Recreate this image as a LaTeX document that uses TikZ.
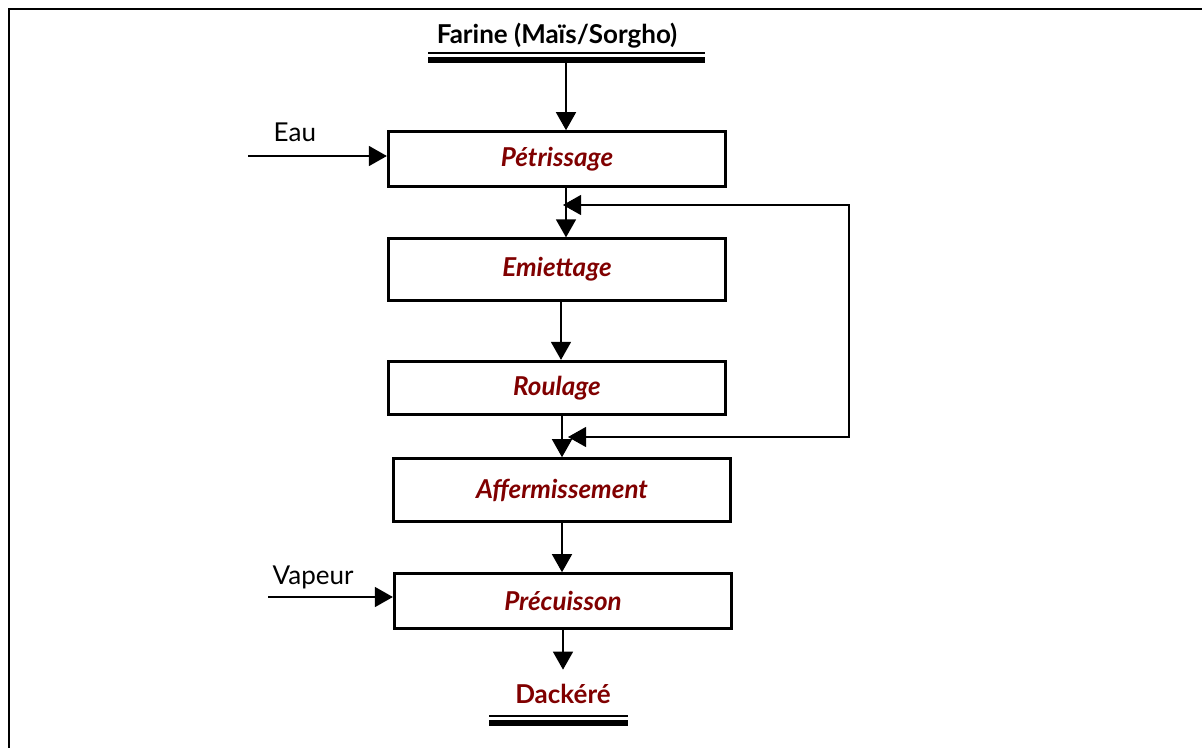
\documentclass[tikz,border=0pt]{standalone}
\usepackage{fontspec}
\setmainfont{Lato}
\usetikzlibrary{arrows.meta,calc}
\definecolor{brique}{RGB}{128,0,0}

\begin{document}
\begin{tikzpicture}[x=0.75pt,y=-0.75pt, every node/.style={font=\fontsize{19.5}{23}\selectfont},
		etape/.style={draw, line width=2.2pt, inner sep=0pt, minimum width=253pt, text=brique, font=\bfseries\itshape\fontsize{19.5}{23}\selectfont},
		fl/.style={-{Triangle[length=13.5pt,width=15pt]}, line width=1.1pt},
		boucle/.style={{Triangle[length=13.5pt,width=15pt]}-{Triangle[length=13.5pt,width=15pt]}, line width=0.8pt}]
		\useasboundingbox (0,0) rectangle (1202,747);
		\clip (0,0) rectangle (1202,747);
		\draw[line width=1pt] (9,9) rectangle (1230,770);
		\node[anchor=base, font=\bfseries\fontsize{19.5}{23}\selectfont] (farine) at (557,43) {Farine (Maïs/Sorgho)};
		\draw[line width=1.1pt] (428,53) -- (705,53);
		\draw[line width=4.5pt] (428,60) -- (705,60);
		\coordinate (fbas) at (566,63);
		\node[etape, minimum height=41pt] (pet) at (557,159) {Pétrissage};
		\node[etape, minimum height=46pt] (emi) at (557,269.5) {Emiettage};
		\node[etape, minimum height=40pt] (rou) at (557,388) {Roulage};
		\node[etape, minimum height=47pt] (aff) at (562,490) {Affermissement};
		\node[etape, minimum height=41pt] (pre) at (563,601) {Précuisson};
		\node[anchor=base, text=brique, font=\bfseries\fontsize{19.5}{23}\selectfont] (dack) at (563,703) {Dackéré};
		\draw[line width=1.1pt] (489,716) -- (628,716);
		\draw[line width=4.5pt] (489,723) -- (628,723);
		\node[anchor=base west] (eau) at (269,141) {Eau};
		\node[anchor=base west] (vap) at (268,584) {Vapeur};
		\coordinate (eauin) at (248,156);
		\coordinate (vapin) at (268,597);
		\coordinate (j1) at (563,205);
		\coordinate (j2) at (568,437);
		\coordinate (retour) at (849,321);
		\draw[fl] (fbas) -- (fbas |- pet.north);
		\draw[fl] (pet.south -| fbas) -- (emi.north -| fbas);
		\draw[fl] ($(emi.south)+(4,0)$) -- ($(rou.north)+(4,0)$);
		\draw[fl] (rou.south -| aff.north) -- (aff.north);
		\draw[fl] (aff.south) -- (aff.south |- pre.north);
		\draw[fl, shorten >=7pt] (pre.south) -- (pre.south |- dack.north);
		\draw[fl] (eauin) -- (eauin -| pet.west);
		\draw[fl] (vapin) -- (vapin -| pre.west);
		\draw[boucle] (j1) -| (retour) |- (j2);
\end{tikzpicture}
\end{document}
